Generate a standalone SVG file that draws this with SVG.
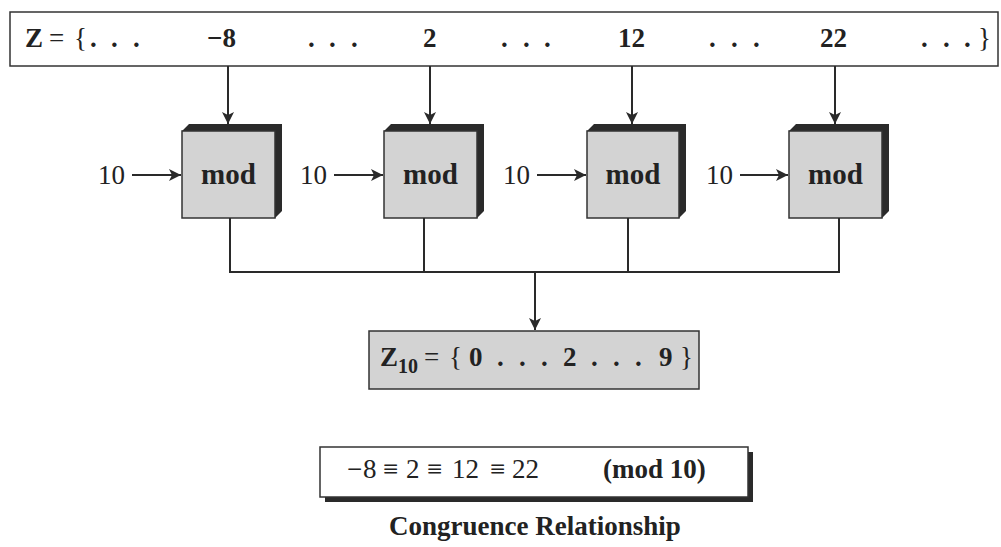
<svg xmlns="http://www.w3.org/2000/svg" width="1001" height="547" viewBox="0 0 1001 547">
<style>
  text { font-family: "Liberation Serif", "Times New Roman", serif; fill: #222; font-size: 27px; }
  .b { font-weight: bold; }
  .m { font-weight: bold; font-size: 29px; }
  .box { fill: #d3d3d3; stroke: #333; stroke-width: 1.5; }
  .side { fill: #2a2a2a; }
  .ln { stroke: #2a2a2a; stroke-width: 2; fill: none; }
  .frame { fill: #fff; stroke: #333; stroke-width: 1.5; }
</style>
<defs>
  <marker id="ah" viewBox="0 0 12 12" refX="12" refY="6" markerWidth="12" markerHeight="12" markerUnits="userSpaceOnUse" orient="auto">
    <path d="M0,0 L12,6 L0,12 L3,6 z" fill="#2a2a2a"/>
  </marker>
</defs>

<g id="setZ">
  <rect class="frame" x="10" y="12" width="988" height="54"/>
  <text y="47"><tspan class="b" x="25">Z</tspan><tspan x="49">=</tspan><tspan x="74">{</tspan><tspan class="b" x="90 111 133">...</tspan><tspan class="b" x="207">−8</tspan><tspan class="b" x="308 329 351">...</tspan><tspan class="b" x="423">2</tspan><tspan class="b" x="501 523 544">...</tspan><tspan class="b" x="618">12</tspan><tspan class="b" x="709 731 753">...</tspan><tspan class="b" x="820">22</tspan><tspan class="b" x="921 943 964">...</tspan><tspan x="978">}</tspan></text>
</g>

<g id="mod1">
  <polygon class="side" points="182,131 189,124 282,124 282,211 275,218 275,131"/>
  <rect class="box" x="182" y="131" width="93" height="87"/>
  <text class="m" x="228.5" y="184" text-anchor="middle">mod</text>
</g>
<g id="mod2">
  <polygon class="side" points="384,131 391,124 484,124 484,211 477,218 477,131"/>
  <rect class="box" x="384" y="131" width="93" height="87"/>
  <text class="m" x="430.5" y="184" text-anchor="middle">mod</text>
</g>
<g id="mod3">
  <polygon class="side" points="587,131 594,124 686,124 686,211 679,218 679,131"/>
  <rect class="box" x="587" y="131" width="92" height="87"/>
  <text class="m" x="633" y="184" text-anchor="middle">mod</text>
</g>
<g id="mod4">
  <polygon class="side" points="789,131 796,124 889,124 889,211 882,218 882,131"/>
  <rect class="box" x="789" y="131" width="93" height="87"/>
  <text class="m" x="835.5" y="184" text-anchor="middle">mod</text>
</g>

<g id="labels10">
  <text x="98" y="184">10</text>
  <text x="300" y="184">10</text>
  <text x="503" y="184">10</text>
  <text x="706" y="184">10</text>
</g>

<g id="connectors">
  <line class="ln" x1="228" y1="66" x2="228" y2="124" marker-end="url(#ah)"/>
  <line class="ln" x1="430" y1="66" x2="430" y2="124" marker-end="url(#ah)"/>
  <line class="ln" x1="632" y1="66" x2="632" y2="124" marker-end="url(#ah)"/>
  <line class="ln" x1="835" y1="66" x2="835" y2="124" marker-end="url(#ah)"/>
  <line class="ln" x1="132" y1="175" x2="181" y2="175" marker-end="url(#ah)"/>
  <line class="ln" x1="334" y1="175" x2="383" y2="175" marker-end="url(#ah)"/>
  <line class="ln" x1="537" y1="175" x2="586" y2="175" marker-end="url(#ah)"/>
  <line class="ln" x1="740" y1="175" x2="788" y2="175" marker-end="url(#ah)"/>
  <polyline class="ln" points="230,218 230,272 839,272 839,218"/>
  <line class="ln" x1="424" y1="218" x2="424" y2="272"/>
  <line class="ln" x1="628" y1="218" x2="628" y2="272"/>
  <line class="ln" x1="535" y1="272" x2="535" y2="330" marker-end="url(#ah)"/>
</g>

<g id="setZ10">
  <rect class="box" x="369" y="331" width="330" height="58"/>
  <text y="366" font-size="28"><tspan class="b" x="380">Z</tspan><tspan class="b" x="398" y="373" font-size="20">10</tspan><tspan x="424" y="366">=</tspan><tspan x="449">{</tspan><tspan class="b" x="469">0</tspan><tspan class="b" x="497 519 541">...</tspan><tspan class="b" x="563">2</tspan><tspan class="b" x="591 613 635">...</tspan><tspan class="b" x="659">9</tspan><tspan x="680">}</tspan></text>
</g>

<g id="congruence">
  <rect x="325" y="452" width="428" height="50" fill="#2a2a2a"/>
  <rect class="frame" x="320" y="447" width="428" height="50"/>
  <text y="478" font-size="29"><tspan x="347 363">−8</tspan><tspan x="383">≡</tspan><tspan x="406">2</tspan><tspan x="427">≡</tspan><tspan x="452">12</tspan><tspan x="490">≡</tspan><tspan x="512">22</tspan><tspan class="b" x="603">(mod 10)</tspan></text>
</g>

<text class="b" x="535" y="535" text-anchor="middle" font-size="31">Congruence Relationship</text>
</svg>
